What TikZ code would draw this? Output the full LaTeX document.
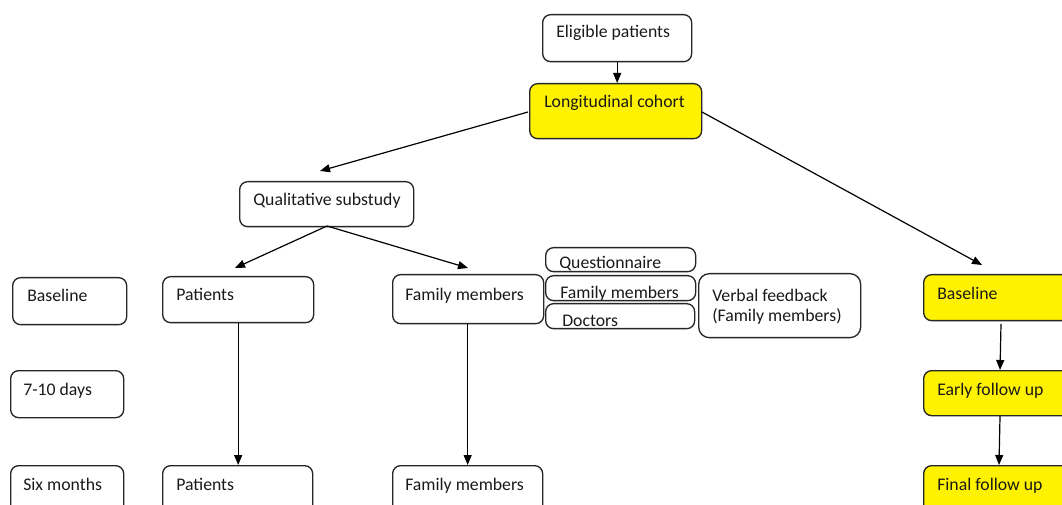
\documentclass[tikz,border=0pt]{standalone}
\usepackage{fontspec}
\setmainfont{Carlito}
\usetikzlibrary{arrows.meta}
\begin{document}
\begin{tikzpicture}[x=0.75pt,y=-0.75pt,
  box/.style={draw=black!85, line width=1pt, rounded corners=6pt, anchor=north west, inner sep=0pt},
  hl/.style={box, fill=yellow},
  sz/.style 2 args={minimum width=#1*0.75pt, minimum height=#2*0.75pt},
  lbl/.style={anchor=base west, inner sep=0pt, text=black!90, font=\fontsize{13.3}{16}\selectfont},
  conn/.style={line width=0.9pt, draw=black, -{Triangle[length=7.5pt,width=6pt]}}]
\useasboundingbox (0,0) rectangle (1062,505);
\clip (0,0) rectangle (1062,505);

% top of the flow
\node[box, sz={149}{47}] (elig) at (542,14) {};
\node[lbl] (elig-t) at (556,38) {Eligible patients};
\node[hl, sz={172}{55}] (long) at (529,83) {};
\node[lbl] (long-t) at (544,108) {Longitudinal cohort};
\node[box, sz={174}{45}] (qual) at (239,181) {};
\node[lbl] (qual-t) at (253,206) {Qualitative substudy};

% time points
\node[box, sz={114}{47}] (tb) at (12,277) {};
\node[lbl] (tb-t) at (27,302) {Baseline};
\node[box, sz={113}{47}] (t7) at (10,370) {};
\node[lbl] (t7-t) at (23,395) {7-10 days};
\node[box, sz={113}{50}] (t6) at (10,465) {};
\node[lbl] (t6-t) at (23,490) {Six months};

% qualitative arm
\node[box, sz={151}{46}] (pat1) at (162,276) {};
\node[lbl] (pat1-t) at (176,301) {Patients};
\node[box, sz={150}{50}] (pat2) at (162,465) {};
\node[lbl] (pat2-t) at (176,490) {Patients};
\node[box, sz={151}{49}] (fam1) at (392,274) {};
\node[lbl] (fam1-t) at (405,301) {Family members};
\node[box, sz={150}{50}] (fam2) at (392,465) {};
\node[lbl] (fam2-t) at (405,490) {Family members};

% instruments
\node[box, sz={150}{24}] (qst) at (545,247) {};
\node[lbl] (qst-t) at (559,269) {Questionnaire};
\node[box, sz={150}{25}] (qfm) at (545,275) {};
\node[lbl] (qfm-t) at (560,299) {Family members};
\node[box, sz={149}{25}] (qdc) at (545,303) {};
\node[lbl] (qdc-t) at (562,327) {Doctors};
\node[box, sz={162}{64}, rounded corners=8pt] (vfb) at (698,273) {};
\node[lbl] (vfb-t1) at (712,302) {Verbal feedback};
\node[lbl] (vfb-t2) at (712,322) {(Family members)};

% cohort arm
\node[hl, sz={160}{46}] (cb) at (923,274) {};
\node[lbl] (cb-t) at (937,300) {Baseline};
\node[hl, sz={160}{45}] (ce) at (923,370) {};
\node[lbl] (ce-t) at (937,395) {Early follow up};
\node[hl, sz={160}{50}] (cf) at (923,465) {};
\node[lbl] (cf-t) at (937,490) {Final follow up};

% connector ends
\coordinate (q-in) at (320,171);
\coordinate (l-out) at (528,112);
\coordinate (r-out) at (702,112);
\coordinate (cb-in) at (982,265);
\coordinate (q-out) at (327,226);
\coordinate (p-in) at (235,268);
\coordinate (f-in) at (468,268);
\coordinate (cb-out) at (1001,324);
\coordinate (ce-in) at (1000,370);
\coordinate (ce-out) at (1000,416);
\coordinate (cf-in) at (999,465);

\draw[conn] (elig.south) -- (elig.south |- long.north);
\draw[conn] (l-out) -- (q-in);
\draw[conn] (r-out) -- (cb-in);
\draw[conn] (q-out) -- (p-in);
\draw[conn] (q-out) -- (f-in);
\draw[conn] (pat1.south) -- (pat1.south |- pat2.north);
\draw[conn] ([xshift=-0.5*0.75pt]fam1.south) -- ([xshift=-0.5*0.75pt]fam1.south |- fam2.north);
\draw[conn] (cb-out) -- (ce-in);
\draw[conn] (ce-out) -- (cf-in);
\end{tikzpicture}
\end{document}
